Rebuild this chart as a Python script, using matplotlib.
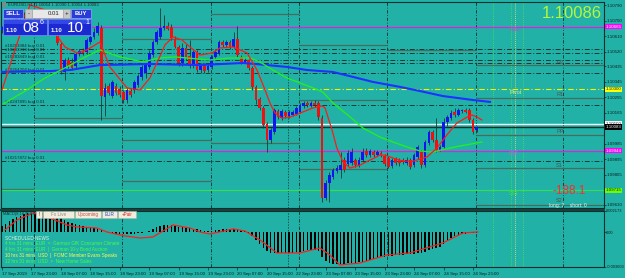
import matplotlib
matplotlib.use("Agg")
import matplotlib.pyplot as plt
from matplotlib.patches import Rectangle

W, H = 625, 278
BG = '#22B1A7'
FG = '#0E2F2C'
plt.rcParams['font.family'] = ['Liberation Sans', 'DejaVu Sans']

# ---- EURUSD H1 candles, 17 Sep 15:00 .. 25 Sep 00:00 ----
opens = [1.10646, 1.10663, 1.10686, 1.10704, 1.10692, 1.10715, 1.10733, 1.10721, 1.10710, 1.10727,
         1.10715, 1.10692, 1.10675, 1.10686, 1.10657, 1.10640, 1.10564, 1.10402, 1.10471, 1.10460,
         1.10437, 1.10506, 1.10524, 1.10518, 1.10576, 1.10605, 1.10628, 1.10657, 1.10256, 1.10320,
         1.10262, 1.10320, 1.10303, 1.10285, 1.10239, 1.10291, 1.10297, 1.10326, 1.10373, 1.10396,
         1.10431, 1.10500, 1.10576, 1.10605, 1.10657, 1.10669, 1.10663, 1.10593, 1.10547, 1.10454,
         1.10541, 1.10495, 1.10437, 1.10518, 1.10413, 1.10442, 1.10413, 1.10431, 1.10489, 1.10512,
         1.10576, 1.10559, 1.10576, 1.10547, 1.10593, 1.10489, 1.10460, 1.10471, 1.10425, 1.10315,
         1.10245, 1.10193, 1.10100, 1.10007, 1.10053, 1.10175, 1.10134, 1.10169, 1.10146, 1.10152,
         1.10158, 1.10169, 1.10204, 1.10222, 1.10204, 1.10222, 1.10222, 1.10134, 1.09670, 1.09757,
         1.09792, 1.09827, 1.09832, 1.09890, 1.09867, 1.09873, 1.09890, 1.09861, 1.09890, 1.09943,
         1.09919, 1.09937, 1.09919, 1.09931, 1.09914, 1.09902, 1.09856, 1.09896, 1.09890, 1.09890,
         1.09873, 1.09890, 1.09861, 1.09908, 1.09937, 1.09861, 1.09989, 1.10053, 1.10007, 1.09949,
         1.09966, 1.10111, 1.10134, 1.10169, 1.10152, 1.10175, 1.10181, 1.10181, 1.10123, 1.10064]
highs = [1.10669, 1.10692, 1.10715, 1.10727, 1.10721, 1.10744, 1.10750, 1.10739, 1.10733, 1.10750,
         1.10733, 1.10710, 1.10698, 1.10704, 1.10675, 1.10652, 1.10576, 1.10483, 1.10489, 1.10483,
         1.10518, 1.10535, 1.10541, 1.10599, 1.10617, 1.10657, 1.10692, 1.10675, 1.10338, 1.10338,
         1.10355, 1.10338, 1.10320, 1.10297, 1.10309, 1.10309, 1.10355, 1.10390, 1.10442, 1.10454,
         1.10530, 1.10588, 1.10646, 1.10774, 1.10733, 1.10692, 1.10681, 1.10611, 1.10559, 1.10570,
         1.10564, 1.10588, 1.10530, 1.10530, 1.10454, 1.10454, 1.10454, 1.10500, 1.10530, 1.10588,
         1.10588, 1.10588, 1.10588, 1.10634, 1.10669, 1.10500, 1.10489, 1.10477, 1.10437, 1.10326,
         1.10256, 1.10204, 1.10111, 1.10076, 1.10193, 1.10187, 1.10187, 1.10181, 1.10181, 1.10181,
         1.10204, 1.10222, 1.10233, 1.10233, 1.10233, 1.10239, 1.10233, 1.10152, 1.09774, 1.09821,
         1.09844, 1.09861, 1.09937, 1.09908, 1.09949, 1.09960, 1.09902, 1.09908, 1.09960, 1.09960,
         1.09954, 1.09949, 1.09949, 1.09943, 1.09925, 1.09914, 1.09902, 1.09908, 1.09902, 1.09902,
         1.09908, 1.09902, 1.09931, 1.09978, 1.09949, 1.10007, 1.10065, 1.10065, 1.10134, 1.09978,
         1.10134, 1.10152, 1.10181, 1.10193, 1.10193, 1.10187, 1.10193, 1.10193, 1.10134, 1.10090]
lows = [1.10628, 1.10652, 1.10675, 1.10681, 1.10686, 1.10704, 1.10715, 1.10698, 1.10692, 1.10710,
        1.10681, 1.10663, 1.10652, 1.10646, 1.10628, 1.10559, 1.10390, 1.10355, 1.10425, 1.10413,
        1.10419, 1.10495, 1.10500, 1.10506, 1.10564, 1.10593, 1.10617, 1.10123, 1.10146, 1.10268,
        1.10251, 1.10268, 1.10256, 1.10222, 1.10222, 1.10256, 1.10280, 1.10315, 1.10355, 1.10367,
        1.10419, 1.10489, 1.10564, 1.10593, 1.10646, 1.10646, 1.10588, 1.10541, 1.10437, 1.10437,
        1.10471, 1.10425, 1.10425, 1.10402, 1.10396, 1.10396, 1.10402, 1.10419, 1.10483, 1.10500,
        1.10547, 1.10547, 1.10535, 1.10541, 1.10489, 1.10448, 1.10454, 1.10413, 1.10297, 1.10216,
        1.10181, 1.10076, 1.09937, 1.09989, 1.10041, 1.10129, 1.10123, 1.10134, 1.10134, 1.10146,
        1.10152, 1.10163, 1.10193, 1.10198, 1.10198, 1.10198, 1.10123, 1.09646, 1.09658, 1.09646,
        1.09780, 1.09815, 1.09786, 1.09821, 1.09856, 1.09861, 1.09850, 1.09850, 1.09879, 1.09908,
        1.09908, 1.09908, 1.09914, 1.09908, 1.09856, 1.09844, 1.09844, 1.09861, 1.09856, 1.09867,
        1.09861, 1.09838, 1.09850, 1.09896, 1.09844, 1.09850, 1.09978, 1.09995, 1.09937, 1.09943,
        1.09954, 1.10088, 1.10123, 1.10140, 1.10146, 1.10163, 1.10163, 1.10111, 1.10041, 1.10054]
closes = [1.10663, 1.10686, 1.10704, 1.10692, 1.10715, 1.10733, 1.10721, 1.10710, 1.10727, 1.10715,
          1.10692, 1.10675, 1.10686, 1.10657, 1.10640, 1.10570, 1.10402, 1.10471, 1.10437, 1.10425,
          1.10506, 1.10524, 1.10512, 1.10588, 1.10605, 1.10634, 1.10669, 1.10262, 1.10309, 1.10280,
          1.10344, 1.10280, 1.10268, 1.10239, 1.10297, 1.10268, 1.10344, 1.10378, 1.10431, 1.10442,
          1.10512, 1.10576, 1.10634, 1.10657, 1.10669, 1.10652, 1.10599, 1.10547, 1.10454, 1.10541,
          1.10489, 1.10437, 1.10518, 1.10413, 1.10442, 1.10407, 1.10437, 1.10489, 1.10518, 1.10576,
          1.10559, 1.10576, 1.10547, 1.10593, 1.10500, 1.10460, 1.10471, 1.10425, 1.10315, 1.10239,
          1.10193, 1.10094, 1.10007, 1.10065, 1.10181, 1.10140, 1.10175, 1.10146, 1.10169, 1.10169,
          1.10193, 1.10210, 1.10222, 1.10210, 1.10222, 1.10210, 1.10140, 1.09670, 1.09757, 1.09803,
          1.09832, 1.09844, 1.09861, 1.09832, 1.09931, 1.09937, 1.09861, 1.09890, 1.09937, 1.09919,
          1.09943, 1.09919, 1.09937, 1.09919, 1.09867, 1.09850, 1.09890, 1.09873, 1.09873, 1.09879,
          1.09890, 1.09850, 1.09919, 1.09966, 1.09861, 1.09995, 1.10053, 1.10007, 1.09949, 1.09966,
          1.10111, 1.10140, 1.10163, 1.10152, 1.10181, 1.10181, 1.10169, 1.10123, 1.10053, 1.10083]

# moving averages (bar index, price)
red_x = [0.0, 3.5, 7.6, 11.7, 14.4, 17.1, 20.4, 23.1, 26.6, 29.3, 34.0, 37.5, 40.2, 42.1, 44.3, 46.5,
         48.9, 51.1, 53.8, 57.1, 59.2, 62.8, 66.6, 69.3, 71.5, 72.8, 74.2, 76.1, 78.3, 81.0, 84.5, 87.0,
         87.8, 89.7, 91.0, 92.7, 94.6, 97.3, 100.0, 102.7, 104.1, 106.3, 109.0, 111.7, 115.5, 118.2,
         120.9, 123.6, 126.4, 127.7, 129.1, 130.4]
red_y = [1.10297, 1.10530, 1.10791, 1.10762, 1.10628, 1.10547, 1.10512, 1.10530, 1.10576, 1.10431,
         1.10309, 1.10297, 1.10367, 1.10454, 1.10559, 1.10605, 1.10588, 1.10547, 1.10500, 1.10512,
         1.10541, 1.10547, 1.10512, 1.10413, 1.10297, 1.10222, 1.10163, 1.10134, 1.10140, 1.10163,
         1.10193, 1.10204, 1.10193, 1.10065, 1.09960, 1.09879, 1.09844, 1.09861, 1.09890, 1.09919,
         1.09919, 1.09902, 1.09884, 1.09884, 1.09908, 1.09960, 1.10036, 1.10105, 1.10140, 1.10152,
         1.10140, 1.10123]
green_x = [0.3, 6.3, 11.7, 17.1, 22.6, 26.6, 32.1, 38.3, 42.9, 47.0, 56.5, 62.0, 67.4, 70.1, 73.6,
           77.4, 81.0, 84.5, 87.2, 89.9, 94.6, 98.1, 102.7, 106.3, 110.1, 113.6, 117.1, 120.4, 124.5,
           130.4]
green_y = [1.10216, 1.10291, 1.10367, 1.10425, 1.10489, 1.10530, 1.10489, 1.10460, 1.10483, 1.10489,
           1.10471, 1.10483, 1.10483, 1.10460, 1.10413, 1.10367, 1.10338, 1.10309, 1.10285, 1.10222,
           1.10140, 1.10076, 1.10024, 1.09995, 1.09966, 1.09943, 1.09937, 1.09954, 1.09972, 1.09995]
blue_x = [-0.3, 13.0, 18.5, 26.6, 40.2, 53.8, 65.5, 72.0, 77.4, 82.9, 89.9, 95.4, 100.8, 108.2,
          113.6, 119.8, 128.0, 132.6]
blue_y = [1.10402, 1.10407, 1.10413, 1.10442, 1.10448, 1.10442, 1.10454, 1.10442, 1.10431, 1.10413,
          1.10402, 1.10373, 1.10344, 1.10315, 1.10291, 1.10262, 1.10239, 1.10228]

# MACD(8,16,9): histogram per bar and signal line
macd_hist = [0.00063, 0.00084, 0.00114, 0.00135, 0.00156, 0.00166, 0.00187, 0.00197, 0.00197, 0.00197,
             0.00197, 0.00197, 0.00187, 0.00187, 0.00176, 0.00166, 0.00145, 0.00125, 0.00104, 0.00094,
             0.00084, 0.00073, 0.00063, 0.00053, 0.00053, 0.00042, 0.00032, 0.00022, 0.00001, -0.00009,
             -0.00009, -0.00020, -0.00020, -0.00020, -0.00020, -0.00020, -0.00020, -0.00009, -0.00009, 0.00001,
             0.00011, 0.00032, 0.00053, 0.00063, 0.00073, 0.00073, 0.00073, 0.00063, 0.00053, 0.00053,
             0.00042, 0.00042, 0.00032, 0.00032, 0.00022, 0.00011, 0.00011, 0.00011, 0.00022, 0.00022,
             0.00032, 0.00032, 0.00032, 0.00032, 0.00032, 0.00022, 0.00011, -0.00009, -0.00040, -0.00081,
             -0.00123, -0.00164, -0.00195, -0.00215, -0.00215, -0.00215, -0.00215, -0.00215, -0.00215, -0.00215,
             -0.00205, -0.00205, -0.00195, -0.00185, -0.00185, -0.00185, -0.00195, -0.00257, -0.00298, -0.00319,
             -0.00329, -0.00329, -0.00329, -0.00329, -0.00319, -0.00319, -0.00319, -0.00308, -0.00308, -0.00298,
             -0.00288, -0.00277, -0.00267, -0.00257, -0.00257, -0.00246, -0.00246, -0.00236, -0.00236, -0.00236,
             -0.00226, -0.00226, -0.00226, -0.00215, -0.00215, -0.00205, -0.00185, -0.00174, -0.00164, -0.00154,
             -0.00123, -0.00092, -0.00061, -0.00040, -0.00030, -0.00020, -0.00020, -0.00009, -0.00009, -0.00009]
sig_x = [0.8, 4.1, 8.4, 13.0, 17.7, 20.4, 25.8, 28.5, 33.4, 37.5, 41.0, 46.5, 51.1, 53.8, 56.5, 62.8,
         66.0, 70.1, 74.7, 81.0, 86.4, 89.1, 91.8, 97.3, 104.6, 110.9, 119.8, 125.3, 129.3]
sig_y = [0.00022, 0.00125, 0.00197, 0.00145, 0.00073, 0.00053, 0.00042, 0.00001, -0.00040, -0.00061,
         -0.00051, 0.00073, 0.00042, 0.00001, -0.00020, 0.00032, 0.00011, -0.00081, -0.00215, -0.00215,
         -0.00164, -0.00236, -0.00339, -0.00319, -0.00236, -0.00215, -0.00112, -0.00009, 0.00001]

time_ticks = list(range(0, 129, 8))
time_labels = ['17 Sep 2019', '17 Sep 23:00', '18 Sep 07:00', '18 Sep 15:00', '18 Sep 23:00',
               '19 Sep 07:00', '19 Sep 15:00', '19 Sep 23:00', '20 Sep 07:00', '20 Sep 15:00',
               '22 Sep 23:00', '23 Sep 07:00', '23 Sep 15:00', '23 Sep 23:00', '24 Sep 07:00',
               '24 Sep 15:00', '24 Sep 23:00']
price_ticks = [1.10790, 1.10700, 1.10610, 1.10520, 1.10435, 1.10345, 1.10255, 1.10165,
               1.09985, 1.09895, 1.09805, 1.09630]

# open orders
order_prices = [1.10535, 1.10512, 1.10471, 1.10454, 1.10396, 1.10210, 1.09884]
order_labels = ['#10283984 buy 0.01', '#10283913 buy 0.01', '#10283849 buy 0.01', '',
                '#10264204 buy 0.01', '#10247895 buy 0.01', '#10217872 buy 0.01']

# fibo pivot levels (full width)
fib_names = ['R38', 'Pivot', 'S38', 'S61']
fib_prices = [1.10665, 1.10300, 1.09944, 1.09715]
# daily classic pivot segments (start bar, end bar, price)
seg_start = [-0.3, 8.7, 32.6, 32.6, 32.6, 56.8, 56.8, 80.7, 80.7, 80.7, 104.6,
             128.8, 128.8, 128.8, 128.8, 128.8]
seg_end = [8.7, 32.6, 56.8, 56.8, 56.8, 80.7, 80.7, 104.6, 104.6, 104.6, 128.8,
           163.6, 163.6, 163.6, 163.6, 163.6]
seg_price = [1.09722, 1.10134, 1.10593, 1.10007, 1.09768, 1.10739, 1.09989, 1.10559, 1.10239,
             1.09838, 1.10530, 1.10442, 1.10251, 1.10036, 1.09844, 1.09629]
today_names = ['R2', 'R1', 'PP', 'S1', 'S2']
today_prices = seg_price[-5:]

day_starts = [8.7, 32.6, 56.8, 80.7, 104.6, 128.8, 152.4]
news_bars = [133.4, 138.3, 139.4, 141.6]
news_colors = ['#4CE84C', '#4CE84C', '#F0F040', '#4CE84C']

bid, white_level = 1.10083, 1.10100
box_prices = [1.10665, 1.10300, 1.10100, 1.10083, 1.09944, 1.09715]
box_fc = ['#FF00FF', '#FFFF00', '#FFFFFF', '#000000', '#FF00FF', '#66FF00']
box_tc = ['#FFFFFF', '#202020', '#202020', '#FFFFFF', '#FFFFFF', '#202020']

news_lines = ['SCHEDULED NEWS',
              '4 hrs 31 mins  EUR  =  German GfK Consumer Climate',
              '4 hrs 31 mins  EUR  |  German 10-y Bond Auction',
              '10 hrs 31 mins  USD  |  FOMC Member Evans Speaks',
              '12 hrs 31 mins  USD  >  New Home Sales']
news_text_colors = ['#D8F5D8', '#44FF44', '#44FF44', '#FFFF44', '#44FF44']

# ---------------------------------------------------------------
fig = plt.figure(figsize=(W / 100, H / 100), dpi=100, facecolor=BG)


def px_axes(x0, y0, x1, y1):
    return fig.add_axes([x0 / W, 1 - y1 / H, (x1 - x0) / W, (y1 - y0) / H])


main = px_axes(1, 2, 604, 208)
macd = px_axes(1, 211, 604, 267)
XL = (-0.27, 163.6)

for ax in (main, macd):
    ax.set_facecolor(BG)
    ax.set_xlim(*XL)
    for sp in ax.spines.values():
        sp.set_color(FG)
        sp.set_linewidth(0.8)
    ax.yaxis.tick_right()
    ax.tick_params(axis='y', labelsize=3.2, length=1.2, width=0.5, color=FG,
                   labelcolor='#0C1F1E', pad=0.5)
    for x in day_starts:
        ax.axvline(x, color=FG, lw=0.6, ls=(0, (4, 2, 1, 2)), zorder=1)
    ax.axvline(77.7, color=FG, lw=0.5, ls=(0, (2, 2)), zorder=1)
    for x, c in zip(news_bars, news_colors):
        ax.axvline(x, color=c, lw=0.6, ls=(0, (1, 1.5)), zorder=1)

# ---- main price window ----
main.set_ylim(1.09612, 1.10808)
main.set_yticks(price_ticks)
main.set_yticklabels(['%.5f' % p for p in price_ticks])
main.tick_params(axis='x', bottom=False, labelbottom=False)

main.hlines(seg_price, seg_start, seg_end, color='#476B5F', lw=0.9, zorder=1.5)
for p, lab in zip(order_prices, order_labels):
    main.axhline(p, color='#0F3A36', lw=0.7, ls=(0, (5, 2, 1, 2)), zorder=1.5)
    if lab:
        main.text(0.9, p + 0.00004, lab, fontsize=3.2, color='#10302D', va='bottom', ha='left')
main.axhline(fib_prices[0], color='#E020E0', lw=0.9, zorder=1.5)
main.axhline(fib_prices[1], color='#F4F400', lw=0.8, ls=(0, (5, 2, 1, 2)), zorder=1.5)
main.axhline(fib_prices[2], color='#E020E0', lw=0.9, zorder=1.5)
main.axhline(fib_prices[3], color='#33DD55', lw=0.9, zorder=1.5)
main.axhline(white_level, color='#EEFFFF', lw=1.0, zorder=1.5)
main.axhline(bid, color='#0D2B29', lw=1.0, zorder=1.5)

fib_colors = ['#D040D0', '#E4F080', '#C060E8', '#40E040']
for n, p, c in zip(fib_names, fib_prices, fib_colors):
    main.text(137.8, p - 0.00003, n, fontsize=4.0, color=c, va='top', ha='left')
for n, p in zip(today_names, today_prices):
    dy = 0.00010 if n == 'S2' else 0.00003
    main.text(150.6, p + dy, n, fontsize=4.0, color='#4A5552', va='bottom', ha='left')

# candles
idx = list(range(len(opens)))
main.vlines(idx, lows, highs, color='#163B38', lw=0.6, zorder=3)
bottoms = [min(o, c) for o, c in zip(opens, closes)]
heights = [max(abs(c - o), 0.00003) for o, c in zip(opens, closes)]
colors = ['#1414F0' if c >= o else '#F01010' for o, c in zip(opens, closes)]
main.bar(idx, heights, bottom=bottoms, width=0.72, color=colors, linewidth=0, zorder=4)

main.plot(blue_x, blue_y, color='#1E32FF', lw=1.5, zorder=5)
main.plot(green_x, green_y, color='#22EE22', lw=1.0, zorder=5)
main.plot(red_x, red_y, color='#FF1A1A', lw=0.9, zorder=6)

ytr = main.get_yaxis_transform()
for p, fc, tc in zip(box_prices, box_fc, box_tc):
    main.text(1.0022, p, '%.5f' % p, transform=ytr, fontsize=3.2, color=tc,
              va='center', ha='left', bbox=dict(boxstyle='square,pad=0.15', fc=fc, ec='none'),
              clip_on=False, zorder=8)

# ---- MACD window ----
macd.set_ylim(-0.003603, 0.002173)
macd.set_yticks([0.002173, 0.0, -0.003603])
macd.set_yticklabels(['0.002173', '0.00', '-0.003603'])
macd.tick_params(axis='y', labelsize=2.9)
macd.bar(idx, macd_hist, width=0.4, color='#000000', linewidth=0, zorder=3)
macd.plot(sig_x, sig_y, color='#FF1E1E', lw=0.9, zorder=4)
macd.set_xticks(time_ticks)
macd.set_xticklabels(time_labels, ha='left')
macd.tick_params(axis='x', labelsize=3.2, length=2, width=0.5, color=FG, labelcolor='#0C1F1E', pad=1.5)

# ---- overlay: panel, texts ----
ov = fig.add_axes([0, 0, 1, 1])
ov.set_xlim(0, W)
ov.set_ylim(H, 0)
ov.axis('off')
ov.patch.set_visible(False)
ov.set_zorder(10)


def box(x0, y0, x1, y1, fc, ec='none', lw=0.5):
    ov.add_patch(Rectangle((x0, y0), x1 - x0, y1 - y0, facecolor=fc, edgecolor=ec, linewidth=lw))


# separator between windows
ov.plot([0, 604], [209.5, 209.5], color=FG, lw=1.2)

# title
box(2, 2, 6, 7, '#7A8C8A')
ov.text(8, 4.8, 'EURUSD,H1  1.10064 1.10090 1.10054 1.10083', fontsize=3.1,
        color='#10302D', va='center', ha='left')

# one-click trading panel
box(3, 9, 23, 18, '#2A3CD8', ec='#9AA8FF')
ov.text(13, 13.6, 'SELL', fontsize=4.2, color='white', ha='center', va='center', fontweight='bold')
box(25, 9, 70, 18, '#E8E8E8', ec='#A0A0A0')
box(25, 9, 32, 18, '#C8C8C8', ec='#A0A0A0')
box(63, 9, 70, 18, '#C8C8C8', ec='#A0A0A0')
ov.text(28.5, 13.5, '-', fontsize=4.5, color='#202020', ha='center', va='center')
ov.text(66.5, 13.5, '+', fontsize=4.5, color='#202020', ha='center', va='center')
ov.text(59, 13.6, '0.01', fontsize=4.3, color='#202020', ha='right', va='center')
box(71, 9, 91, 18, '#2A3CD8', ec='#9AA8FF')
ov.text(81, 13.6, 'BUY', fontsize=4.2, color='white', ha='center', va='center', fontweight='bold')
for x0, x1, big, sup in [(3, 47, '08', '6'), (48, 91, '10', '1')]:
    box(x0, 19, x1, 35, '#1B29D0', ec='#7C8CFF')
    box(x0 + 0.5, 19.5, x1 - 0.5, 24, '#3346E6')
    ov.text(x0 + 3, 30, '1.10', fontsize=4.3, color='white', ha='left', va='center', fontweight='bold')
    ov.text(x0 + 19, 27.5, big, fontsize=11, color='white', ha='left', va='center')
    ov.text(x0 + 37, 22.5, sup, fontsize=5, color='white', ha='left', va='center')

# big price and position info
ov.text(602, 14, '1.10086', fontsize=12, color='#B6F53A', ha='right', va='center')
ov.text(586, 191, '-188.1', fontsize=8.5, color='#FF2A2A', ha='right', va='center')
ov.text(549, 205.5, 'long: 7    short: 0', fontsize=3.6, color='#E6F6F4', ha='left', va='center')

# MACD window caption and news buttons
ov.text(3, 214, 'MACD(8,16,9) 0.0', fontsize=2.9, color='#10302D', ha='left', va='center')
btn_edges = [36, 43, 75, 102, 118, 137]
btn_text = ['!', 'Fx Live', 'Upcoming', 'EUR', '+Pair']
btn_colors = ['#303030', '#8A8A8A', '#C04848', '#2848C8', '#E02020']
for i, t in enumerate(btn_text):
    x0, x1 = btn_edges[i], btn_edges[i + 1]
    box(x0, 211, x1 - 0.6, 218, '#F2ECDC', ec='#B8B0A0', lw=0.4)
    ov.text((x0 + x1) / 2, 214.6, t, fontsize=3.3, color=btn_colors[i], ha='center', va='center')

for k, (t, c) in enumerate(zip(news_lines, news_text_colors)):
    ov.text(5, 238 + 5.8 * k, t, fontsize=3.3, color=c, ha='left', va='center')

fig.savefig('out.png', dpi=100, facecolor=BG)
